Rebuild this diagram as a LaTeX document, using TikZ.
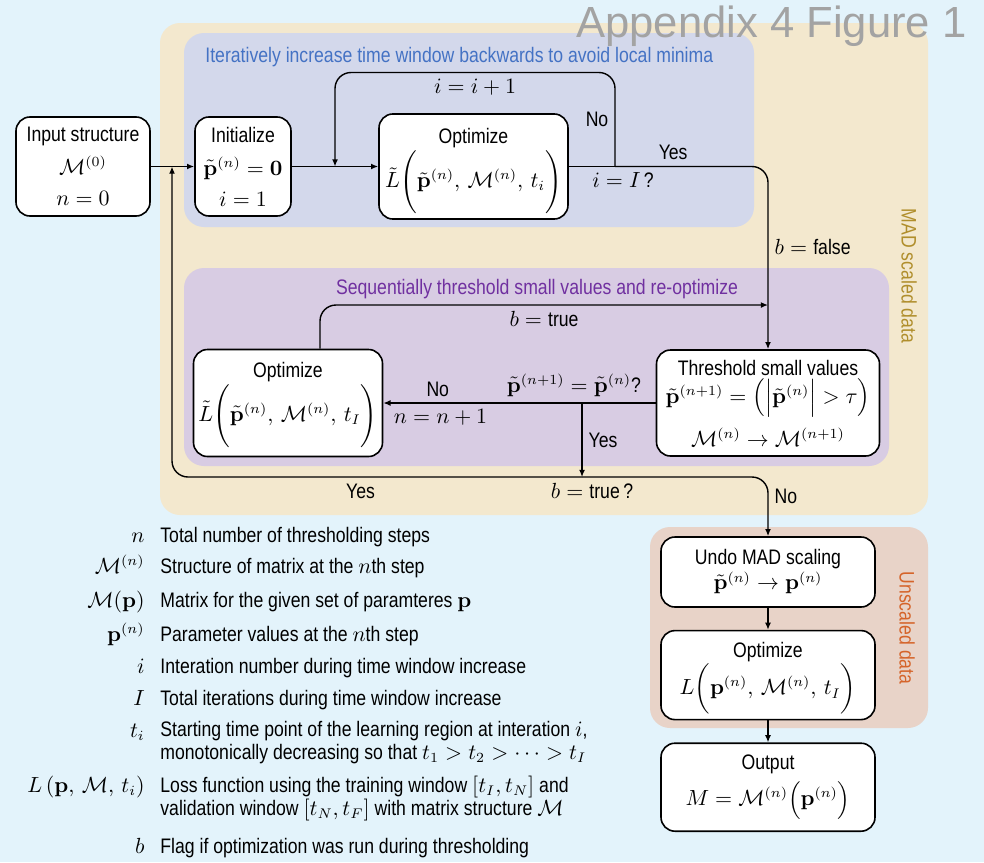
\documentclass[tikz,border=0pt]{standalone}
\usepackage{amsmath,amssymb}
\usepackage[no-math]{fontspec}
\setmainfont{Liberation Sans}[FakeStretch=0.84]
\newfontfamily\titlefont{Liberation Sans}
\usepackage{xcolor}
\usetikzlibrary{arrows.meta, positioning}

\definecolor{skybg}{HTML}{E3F3FB}
\definecolor{tanbg}{HTML}{F3E8CE}
\definecolor{bluebg}{HTML}{D3D8EB}
\definecolor{purplebg}{HTML}{D8CCE3}
\definecolor{rosebg}{HTML}{E8D3C8}
\definecolor{bluetitle}{HTML}{4472C4}
\definecolor{purpletitle}{HTML}{7030A0}
\definecolor{madgold}{HTML}{B08E2C}
\definecolor{unscaledred}{HTML}{D5642A}
\definecolor{figgray}{HTML}{A3A3A3}

\begin{document}
\begin{tikzpicture}[
    x=0.5pt, y=-0.5pt,
    font=\fontsize{10.5}{12.5}\selectfont,
    node distance=11pt and 11pt,
    box/.style={rectangle, rounded corners=7pt, draw=black, fill=white,
                line width=0.8pt, align=center, inner sep=2pt},
    arr/.style={-{Latex[length=3.6pt, width=3pt]}, line width=0.7pt},
    lbl/.style={inner sep=3pt},
    panel/.style={rounded corners=10pt},
    sym/.style={inner sep=0pt, anchor=base east},
    desc/.style={inner sep=0pt, anchor=base west, align=left,
                 font=\fontsize{10.5}{11.2}\selectfont}
]
\fill[skybg] (0,0) rectangle (984,862);
\useasboundingbox (0,0) rectangle (984,862);

% panels
\fill[tanbg, panel]    (160,23)  rectangle (928,515);
\fill[bluebg, panel]   (184,33)  rectangle (754,227);
\fill[purplebg, panel] (184,268) rectangle (889,466);
\fill[rosebg, panel]   (650,527) rectangle (928,728);

\node[anchor=base east, inner sep=0pt, text=figgray,
      font=\titlefont\fontsize{21.8}{24}\selectfont]
    (figttl) at (967,37) {Appendix 4 Figure 1};
\node[anchor=base west, inner sep=0pt, text=bluetitle]
    (ttl1) at (205,62) {Iteratively increase time window backwards to avoid local minima};
\node[anchor=base, inner sep=0pt, text=purpletitle]
    (ttl2) at (537,294) {Sequentially threshold small values and re-optimize};
\node[rotate=-90, text=madgold] (madlbl) at (909,276) {MAD scaled data};
\node[rotate=-90, text=unscaledred] (unslbl) at (907,628) {Unscaled data};

% boxes
\node[box, minimum width=67pt, minimum height=49.5pt]
    (input) at (83,166.5) {Input structure\\[4pt] $\mathcal{M}^{(0)}$\\[3pt] $n=0$};
\node[box, minimum width=48pt, minimum height=49.5pt]
    (init) at (243,166.5) {Initialize\\[4pt] $\tilde{\mathbf{p}}^{(n)} = \mathbf{0}$\\[3pt] $i=1$};
\node[box, minimum width=94.5pt, minimum height=49.5pt]
    (opt1) at (473.5,166.5) {\rule{0pt}{13pt}Optimize\\[-0.5pt] $\tilde{L}\Biggl(\tilde{\mathbf{p}}^{(n)},\, \mathcal{M}^{(n)},\, t_i\Biggr)$};
\node[box, minimum width=111.5pt, minimum height=53pt]
    (thr) at (768,403) {Threshold small values\\[0.5pt] $\tilde{\mathbf{p}}^{(n+1)} = \Bigl(\Bigl|\tilde{\mathbf{p}}^{(n)}\Bigr| > \tau\Bigr)$\\[4pt] $\mathcal{M}^{(n)} \to \mathcal{M}^{(n+1)}$};
\node[box, minimum width=94.5pt, minimum height=53.5pt]
    (optm) at (288,403) {\rule{0pt}{10pt}Optimize\\[-0.5pt] $\tilde{L}\Biggl(\tilde{\mathbf{p}}^{(n)},\, \mathcal{M}^{(n)},\, t_I\Biggr)$};
\node[box, minimum width=107pt, minimum height=35pt]
    (undo) at (768,572) {Undo MAD scaling\\ $\tilde{\mathbf{p}}^{(n)} \to \mathbf{p}^{(n)}$};
\node[box, minimum width=107pt, minimum height=44.5pt, below=11pt of undo]
    (optb) {\rule{0pt}{11.5pt}Optimize\\[-0.5pt] $L\biggl(\mathbf{p}^{(n)},\, \mathcal{M}^{(n)},\, t_I\biggr)$};
\node[box, minimum width=107pt, minimum height=44pt, below=11pt of optb]
    (out) {Output\\[2.5pt] $M = \mathcal{M}^{(n)}\Bigl(\mathbf{p}^{(n)}\Bigr)$};

% junctions
\coordinate (merge) at (172,166.5);
\coordinate (back1) at (335,166.5);
\coordinate (chk1)  at (615,166.5);
\coordinate (btrue) at (768,305);
\coordinate (chk2)  at (582,403);
\coordinate (chk3)  at (582,477);

% time window loop
\draw[arr] (input.east) -- (init.west);
\draw[arr] (init.east) -- (opt1.west);
\draw[line width=0.7pt] (opt1.east) -- (chk1);
\draw[arr, rounded corners=8pt]
    (chk1) -- node[lbl, left]{No} ++(0,-94)
    -| node[lbl, below, pos=0.25]{$i=i+1$} (back1);
\node[lbl, anchor=north, xshift=4pt] (cond1) at (chk1) {$i=I$\,?};
\draw[arr, rounded corners=8pt]
    (chk1) -| node[lbl, above, pos=0.19]{Yes}
    node[lbl, right, pos=0.72]{$b=\text{false}$} (thr.north);

% thresholding loop
\draw[arr, rounded corners=8pt]
    ([xshift=16pt]optm.north) |- node[lbl, below, pos=0.75]{$b=\text{true}$} (btrue);
\draw[arr] (thr.west)
    -- node[lbl, above, pos=0.3]{$\tilde{\mathbf{p}}^{(n+1)} = \tilde{\mathbf{p}}^{(n)}$?}
       node[lbl, above, pos=0.8]{No}
       node[lbl, below, pos=0.79]{$n=n+1$} (optm.east);
\draw[arr] (chk2) -- node[lbl, right]{Yes} (chk3);
\node[lbl, below=0pt of chk3, xshift=5pt] (cond2) {$b=\text{true}$\,?};
\draw[arr, rounded corners=8pt]
    (chk3) -| node[lbl, below, pos=0.27]{Yes} (merge);
\draw[arr, rounded corners=8pt]
    (chk3) -| node[lbl, right, pos=0.66]{No} (undo.north);

% unscaled data
\draw[arr] (undo.south) -- (optb.north);
\draw[arr] (optb.south) -- (out.north);

% legend (second number: baseline of the last text line)
\foreach \yy/\ly/\sym/\desc [count=\k] in {
    542/542/{$n$}/{Total number of thresholding steps},
    573/573/{$\mathcal{M}^{(n)}$}/{Structure of matrix at the $n$th step},
    607/607/{$\mathcal{M}(\mathbf{p})$}/{Matrix for the given set of paramteres $\mathbf{p}$},
    641/641/{$\mathbf{p}^{(n)}$}/{Parameter values at the $n$th step},
    673/673/{$i$}/{Interation number during time window increase},
    705/705/{$I$}/{Total iterations during time window increase},
    737/759/{$t_i$}/{Starting time point of the learning region at interation $i$,\\monotonically decreasing so that $t_1 > t_2 > \cdots > t_I$},
    792/815/{$L\left(\mathbf{p},\, \mathcal{M},\, t_i\right)$}/{Loss function using the training window $[t_I, t_N]$ and\\validation window $[t_N, t_F]$ with matrix structure $\mathcal{M}$},
    853/853/{$b$}/{Flag if optimization was run during thresholding}}
{
    \node[sym] (sym\k) at (145,\yy) {\sym};
    \node[desc] (desc\k) at (160,\ly) {\desc};
}
\end{tikzpicture}
\end{document}
